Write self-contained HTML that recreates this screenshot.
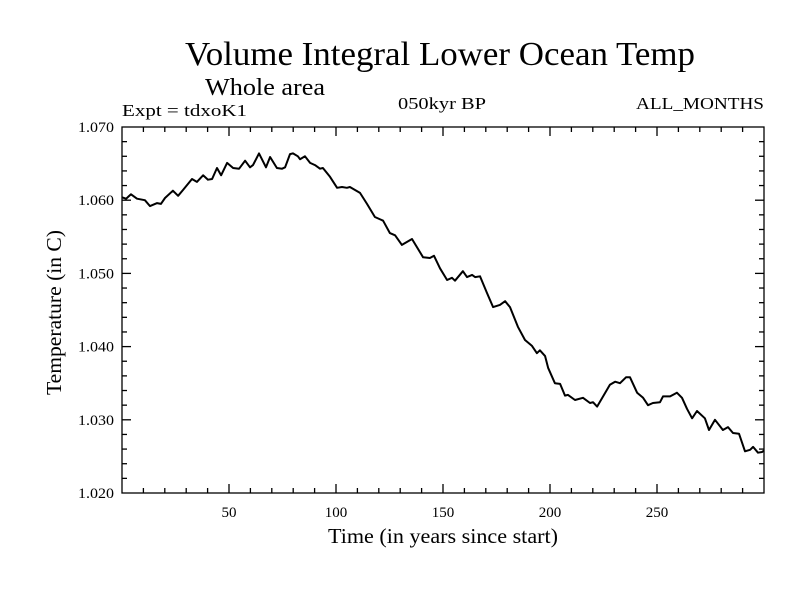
<!DOCTYPE html>
<html><head><meta charset="utf-8"><style>
body{margin:0;background:#fff;width:800px;height:600px;overflow:hidden}
text{font-family:"Liberation Serif",serif;fill:#000}
</style></head><body>
<svg id="chart" width="800" height="600" viewBox="0 0 800 600">
<rect width="800" height="600" fill="#fff"/>
<text x="185" y="65" font-size="34" textLength="510" lengthAdjust="spacingAndGlyphs">Volume Integral Lower Ocean Temp</text>
<text x="205" y="95" font-size="24" textLength="120" lengthAdjust="spacingAndGlyphs">Whole area</text>
<text x="122" y="116" font-size="17" textLength="125" lengthAdjust="spacingAndGlyphs">Expt = tdxoK1</text>
<text x="398" y="109" font-size="17" textLength="88" lengthAdjust="spacingAndGlyphs">050kyr BP</text>
<text x="636" y="109" font-size="17" textLength="128" lengthAdjust="spacingAndGlyphs">ALL_MONTHS</text>
<text x="328" y="543" font-size="21" textLength="230" lengthAdjust="spacingAndGlyphs">Time (in years since start)</text>
<text transform="translate(61,395) rotate(-90)" font-size="21" textLength="165" lengthAdjust="spacingAndGlyphs">Temperature (in C)</text>
<g id="axes"></g>
<path id="series" fill="none" stroke="#000" stroke-width="2" stroke-linejoin="round"/>
</svg>
<script>
const years=[0,1.9,4.2,7,10.7,13.1,16.4,18.2,20.1,23.8,26.2,28.5,32.7,35,37.9,40.2,42.1,44.4,46.3,49.1,51.9,54.7,57.5,59.8,61.2,64,67.3,69.2,72.4,74.8,76.2,78.5,79.9,82.2,83.2,85.5,87.9,90.2,92.5,93.9,97.2,100.5,102.8,105.1,106.5,111.2,114.5,118.2,122,125.2,127.6,130.8,135.5,140.7,143.9,145.8,148.6,151.9,154.2,155.6,159.3,161.2,163.6,165,167.3,170.6,173.4,176.6,179,181.3,185,188.3,191.6,193.9,195.3,197.7,199.1,202.3,204.7,207,208.4,211.7,215.4,218.7,220.1,222,224.8,228,230.4,232.7,235.5,237.4,240.7,243.5,245.8,248.1,251.4,252.8,256.1,259.3,261.7,264,266.4,268.7,272.4,274.3,277.1,280.8,283.2,285.5,288.3,291.1,293.5,294.9,297.2,299.1,300];
const temps=[1.0604,1.0602,1.0608,1.0602,1.0600,1.0592,1.0596,1.0595,1.0603,1.0613,1.0606,1.0614,1.0629,1.0625,1.0634,1.0628,1.0629,1.0644,1.0634,1.0651,1.0644,1.0643,1.0654,1.0645,1.0648,1.0664,1.0645,1.0659,1.0644,1.0643,1.0645,1.0663,1.0664,1.0660,1.0656,1.0660,1.0651,1.0648,1.0643,1.0644,1.0632,1.0617,1.0618,1.0617,1.0618,1.0610,1.0595,1.0577,1.0572,1.0555,1.0552,1.0539,1.0547,1.0522,1.0521,1.0524,1.0507,1.0491,1.0494,1.0490,1.0503,1.0495,1.0498,1.0495,1.0496,1.0473,1.0454,1.0457,1.0462,1.0454,1.0427,1.0409,1.0401,1.0391,1.0395,1.0387,1.0371,1.0350,1.0349,1.0333,1.0334,1.0327,1.0330,1.0323,1.0324,1.0318,1.0332,1.0348,1.0352,1.0350,1.0358,1.0358,1.0337,1.0330,1.0320,1.0323,1.0324,1.0332,1.0332,1.0337,1.0330,1.0315,1.0302,1.0312,1.0302,1.0286,1.0300,1.0286,1.0290,1.0282,1.0281,1.0257,1.0259,1.0263,1.0255,1.0256,1.0258];
const xTicks=[50,100,150,200,250];
const yTicks=["1.020","1.030","1.040","1.050","1.060","1.070"];
const X0=122,X1=764,Y0=493,Y1=127,xmin=0,xmax=300,ymin=1.02,ymax=1.07;
const sx=v=>X0+(v-xmin)/(xmax-xmin)*(X1-X0);
const sy=v=>Y0-(v-ymin)/(ymax-ymin)*(Y0-Y1);
const NS="http://www.w3.org/2000/svg";
const g=document.getElementById('axes');
function ln(x1,y1,x2,y2,name){const l=document.createElementNS(NS,'line');
l.setAttribute('x1',x1);l.setAttribute('y1',y1);l.setAttribute('x2',x2);l.setAttribute('y2',y2);
l.setAttribute('stroke','#000');l.setAttribute('stroke-width','1.3');


g.appendChild(l);}
function tx(x,y,s,anchor,name,len){const t=document.createElementNS(NS,'text');
t.setAttribute('x',x);t.setAttribute('y',y);t.setAttribute('font-size','15');t.setAttribute('text-anchor',anchor);t.textContent=s;
if(len){t.setAttribute('textLength',len);t.setAttribute('lengthAdjust','spacingAndGlyphs');}


g.appendChild(t);}
const fr=document.createElementNS(NS,'rect');
fr.setAttribute('x',X0);fr.setAttribute('y',Y1);fr.setAttribute('width',X1-X0);fr.setAttribute('height',Y0-Y1);
fr.setAttribute('fill','none');fr.setAttribute('stroke','#000');fr.setAttribute('stroke-width','1.3');


g.appendChild(fr);
for(let v=10;v<300;v+=10){const x=sx(v),len=v%50===0?9:5;ln(x,Y0,x,Y0-len,'x-tick');ln(x,Y1,x,Y1+len,'x-tick-top');}
xTicks.forEach(v=>tx(sx(v),Y0+24,String(v),'middle','x-tick-label'));
for(let i=1;i<25;i++){const v=ymin+i*0.002,y=sy(v),len=i%5===0?9:5;ln(X0,y,X0+len,y,'y-tick');ln(X1,y,X1-len,y,'y-tick-right');}
yTicks.forEach(s=>tx(X0-8,sy(parseFloat(s))+5,s,'end','y-tick-label',36));
document.getElementById('series').setAttribute('d',years.map((v,i)=>(i?'L':'M')+sx(v).toFixed(1)+','+sy(temps[i]).toFixed(1)).join(''));
</script>
</body></html>
